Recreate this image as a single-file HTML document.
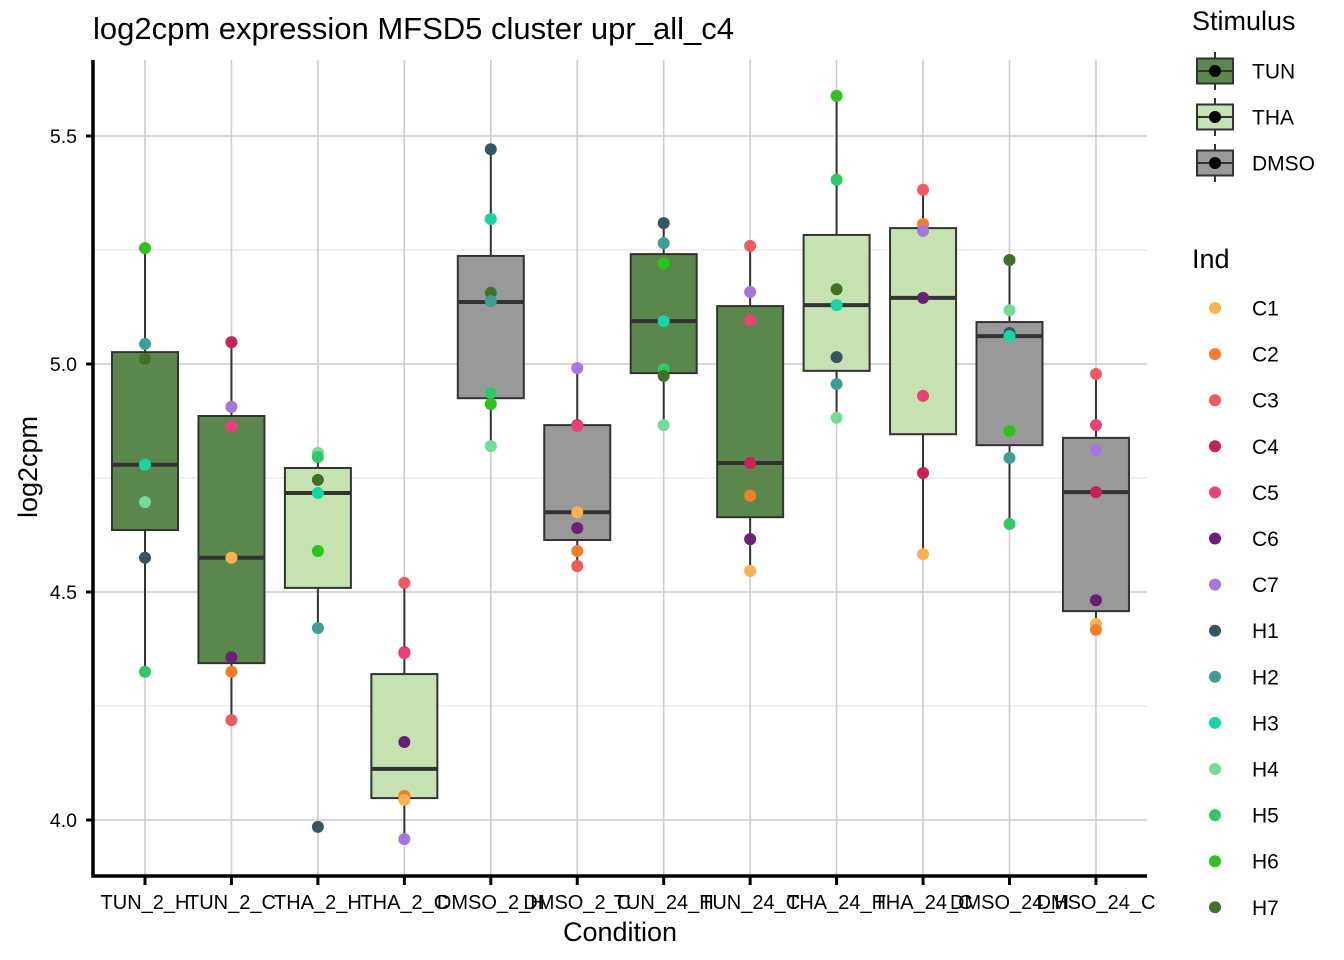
<!DOCTYPE html>
<html><head><meta charset="utf-8"><style>
html,body{margin:0;padding:0;background:#fff;}
svg{display:block;font-family:"Liberation Sans",Arial,sans-serif;}
</style></head><body>
<svg id="chart" width="1344" height="960" viewBox="0 0 1344 960">
<text x="93" y="39" font-size="31" fill="#000">log2cpm expression MFSD5 cluster upr_all_c4</text>
<g id="grid"></g>
<g id="boxes"></g>
<g id="points"></g>
<g id="axes"></g>
<text x="620" y="941" font-size="27" text-anchor="middle">Condition</text>
<text transform="translate(37,467) rotate(-90)" font-size="27" text-anchor="middle">log2cpm</text>
<g id="legend"></g>
</svg>
<script>
const categories = ["TUN_2_H","TUN_2_C","THA_2_H","THA_2_C","DMSO_2_H","DMSO_2_C","TUN_24_H","TUN_24_C","THA_24_H","THA_24_C","DMSO_24_H","DMSO_24_C"];
const stimulus = ["TUN","TUN","THA","THA","DMSO","DMSO","TUN","TUN","THA","THA","DMSO","DMSO"];
const q1 = [4.636,4.344,4.509,4.048,4.925,4.614,4.980,4.664,4.985,4.846,4.822,4.458];
const med = [4.779,4.575,4.717,4.112,5.136,4.675,5.094,4.783,5.129,5.145,5.061,4.719];
const q3 = [5.026,4.886,4.772,4.320,5.237,4.866,5.241,5.127,5.283,5.298,5.092,4.838];
const whiskerLo = [4.325,4.219,4.421,3.958,4.820,4.557,4.866,4.546,4.882,4.583,4.649,4.417];
const whiskerHi = [5.254,5.048,4.805,4.520,5.471,4.991,5.309,5.259,5.588,5.382,5.228,4.978];
const pointCat = [0,0,0,0,0,0,0, 1,1,1,1,1,1,1, 2,2,2,2,2,2,2, 3,3,3,3,3,3,3, 4,4,4,4,4,4,4, 5,5,5,5,5,5,5, 6,6,6,6,6,6,6, 7,7,7,7,7,7,7, 8,8,8,8,8,8,8, 9,9,9,9,9,9,9, 10,10,10,10,10,10,10, 11,11,11,11,11,11,11];
const pointInd = ["H6","H2","H7","H3","H4","H1","H5", "C4","C7","C5","C1","C6","C2","C3", "H4","H5","H7","H3","H6","H2","H1", "C3","C4","C5","C6","C2","C1","C7", "H1","H3","H7","H2","H5","H6","H4", "C7","C4","C5","C1","C6","C2","C3", "H1","H2","H6","H3","H5","H7","H4", "C3","C7","C5","C4","C2","C6","C1", "H6","H5","H7","H3","H1","H2","H4", "C3","C2","C7","C6","C5","C4","C1", "H7","H4","H1","H3","H6","H2","H5", "C3","C5","C7","C4","C6","C1","C2"];
const pointVal = [5.254,5.044,5.011,4.779,4.697,4.575,4.325, 5.048,4.906,4.864,4.575,4.357,4.325,4.219, 4.805,4.796,4.746,4.717,4.590,4.421,3.985, 4.520,4.368,4.366,4.171,4.053,4.044,3.958, 5.471,5.318,5.156,5.138,4.936,4.912,4.820, 4.991,4.866,4.864,4.675,4.640,4.590,4.557, 5.309,5.265,5.221,5.094,4.989,4.974,4.866, 5.259,5.158,5.096,4.783,4.711,4.616,4.546, 5.588,5.404,5.164,5.129,5.015,4.956,4.882, 5.382,5.307,5.292,5.145,4.930,4.761,4.583, 5.228,5.118,5.068,5.061,4.853,4.794,4.649, 4.978,4.866,4.811,4.719,4.482,4.430,4.417];
const yTicks = [4.0,4.5,5.0,5.5];
const yTickLabels = ["4.0","4.5","5.0","5.5"];
const yMinor = [4.25,4.75,5.25];
const stimNames = ["TUN","THA","DMSO"];
const indNames = ["C1","C2","C3","C4","C5","C6","C7","H1","H2","H3","H4","H5","H6","H7"];

const stimFill = {TUN:"#5a884c",THA:"#c6e2b0",DMSO:"#999999"};
const indColor = {C1:"#fbb24f",C2:"#f47d2a",C3:"#f15b60",C4:"#c8205a",C5:"#ea4274",C6:"#6a1f79",C7:"#a377dd",H1:"#375463",H2:"#3e9e95",H3:"#17d5a5",H4:"#73dd98",H5:"#2fc866",H6:"#2cc31b",H7:"#3f7226"};
const NS="http://www.w3.org/2000/svg";
const L=93,R=1147,T=60,B=876;
const y=v=>364-(v-5.0)*456;
const x=i=>145+86.45*i;
function mk(tag,attrs,parent){const e=document.createElementNS(NS,tag);for(const k in attrs)e.setAttribute(k,attrs[k]);parent.appendChild(e);return e;}
const grid=document.getElementById('grid'),boxes=document.getElementById('boxes'),pts=document.getElementById('points'),axes=document.getElementById('axes'),leg=document.getElementById('legend');
yMinor.forEach(v=>{const e=mk('line',{x1:L,x2:R,y1:y(v),y2:y(v),stroke:'#e6e6e6','stroke-width':1.2},grid);

});
yTicks.forEach(v=>{const e=mk('line',{x1:L,x2:R,y1:y(v),y2:y(v),stroke:'#cccccc','stroke-width':1.6},grid);

});
categories.forEach((c,i)=>{const e=mk('line',{x1:x(i),x2:x(i),y1:T,y2:B,stroke:'#cccccc','stroke-width':1.6},grid);

});
const bw=66;
categories.forEach((c,i)=>{
 const g=mk('g',{},boxes);
 
 
 mk('line',{x1:x(i),x2:x(i),y1:y(whiskerHi[i]),y2:y(q3[i]),stroke:'#333','stroke-width':2},g);
 mk('line',{x1:x(i),x2:x(i),y1:y(q1[i]),y2:y(whiskerLo[i]),stroke:'#333','stroke-width':2},g);
 mk('rect',{x:x(i)-bw/2,y:y(q3[i]),width:bw,height:y(q1[i])-y(q3[i]),fill:stimFill[stimulus[i]],stroke:'#333','stroke-width':2},g);
 mk('line',{x1:x(i)-bw/2,x2:x(i)+bw/2,y1:y(med[i]),y2:y(med[i]),stroke:'#333','stroke-width':4},g);
});
pointVal.forEach((v,k)=>{const e=mk('circle',{cx:x(pointCat[k]),cy:y(v),r:6,fill:indColor[pointInd[k]]},pts);

});
mk('line',{x1:L,x2:L,y1:T,y2:B+1.5,stroke:'#000','stroke-width':3.5},axes);
mk('line',{x1:L-1.5,x2:R,y1:B,y2:B,stroke:'#000','stroke-width':3.5},axes);
yTicks.forEach((v,i)=>{mk('line',{x1:L-7,x2:L,y1:y(v),y2:y(v),stroke:'#000','stroke-width':3},axes);
const t=mk('text',{x:L-16,y:y(v)+7,'font-size':19.5,'text-anchor':'end',fill:'#000'},axes);t.textContent=yTickLabels[i];

});
categories.forEach((c,i)=>{mk('line',{x1:x(i),x2:x(i),y1:B,y2:B+9,stroke:'#000','stroke-width':3},axes);
const t=mk('text',{x:x(i),y:909,'font-size':20,'text-anchor':'middle',fill:'#000'},axes);t.textContent=c;

});
// legend
let t=mk('text',{x:1192,y:30,'font-size':27},leg);t.textContent='Stimulus';


stimNames.forEach((s,i)=>{const cy=71+46*i;const g=mk('g',{},leg);


mk('line',{x1:1215,x2:1215,y1:cy-19,y2:cy+19,stroke:'#333','stroke-width':2},g);
mk('rect',{x:1197,y:cy-12.5,width:36,height:25,fill:stimFill[s],stroke:'#333','stroke-width':2},g);
mk('line',{x1:1197,x2:1233,y1:cy,y2:cy,stroke:'#333','stroke-width':2},g);
mk('circle',{cx:1215,cy:cy,r:6,fill:'#000'},g);
const tt=mk('text',{x:1252,y:cy+7.5,'font-size':21},g);tt.textContent=s;});
t=mk('text',{x:1192,y:268,'font-size':27},leg);t.textContent='Ind';


indNames.forEach((s,i)=>{const cy=308+46.1*i;const g=mk('g',{},leg);


mk('circle',{cx:1215,cy:cy,r:6,fill:indColor[s]},g);
const tt=mk('text',{x:1252,y:cy+7.5,'font-size':21},g);tt.textContent=s;});
</script>
</body></html>
